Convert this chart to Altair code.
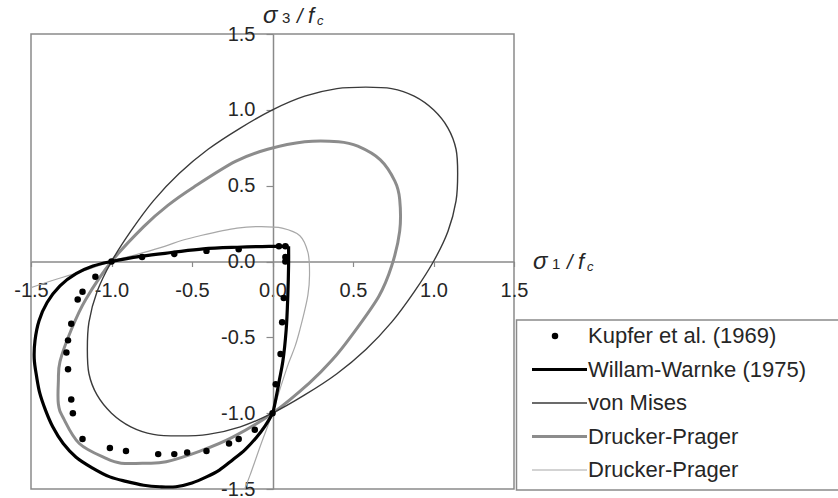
import altair as alt
import pandas as pd

# Biaxial failure envelopes of concrete, normalised principal stresses (σ1/fc, σ3/fc)

# Kupfer et al. (1969) test results
kupfer_s1 = [-1.00, -0.81, -0.61, -0.41, -0.21, 0.04, 0.08, 0.08, 0.08, 0.07, 0.06, 0.05, 0.02,
             0.00, -0.11, -0.21, -0.27, -0.41, -0.53, -0.61, -0.71, -0.91, -1.01, -1.18,
             -1.24, -1.25, -1.27, -1.28, -1.27, -1.25, -1.21, -1.18, -1.10]
kupfer_s3 = [0.00, 0.03, 0.05, 0.07, 0.08, 0.10, 0.10, 0.03, 0.00, -0.24, -0.40, -0.61, -0.81,
             -1.00, -1.11, -1.17, -1.20, -1.25, -1.26, -1.27, -1.27, -1.25, -1.23, -1.17,
             -1.00, -0.91, -0.71, -0.60, -0.52, -0.41, -0.25, -0.20, -0.10]

# Willam-Warnke (1975): tension corner, top edge, compression arc, right edge
ww_s1 = [0.10, -0.02, -0.22, -0.43, -0.62, -0.81,
         -1.00, -1.115, -1.22, -1.32, -1.40, -1.45, -1.475, -1.48, -1.465, -1.445, -1.41,
         -1.365, -1.30, -1.22, -1.12, -1.01, -0.91, -0.80, -0.70, -0.60, -0.50, -0.41,
         -0.33, -0.25, -0.17, -0.10, -0.05,
         0.00, 0.02, 0.043, 0.064, 0.085, 0.095, 0.10, 0.10]
ww_s3 = [0.10, 0.10, 0.094, 0.083, 0.06, 0.035,
         0.00, -0.03, -0.08, -0.16, -0.27, -0.39, -0.52, -0.64, -0.76, -0.87, -0.98,
         -1.09, -1.20, -1.29, -1.36, -1.42, -1.45, -1.475, -1.485, -1.485, -1.46, -1.42,
         -1.375, -1.31, -1.24, -1.16, -1.09,
         -1.00, -0.91, -0.78, -0.66, -0.45, -0.23, -0.02, 0.10]

# von Mises
vm_s1 = [1.00, 0.88, 0.74, 0.58, 0.40, 0.20, 0.00, -0.20, -0.40, -0.58, -0.74, -0.88,
         -1.00, -1.09, -1.14, -1.15, -1.14, -1.09, -1.00, -0.88, -0.74, -0.58, -0.40, -0.20,
         0.00, 0.20, 0.40, 0.58, 0.74, 0.88, 1.00, 1.09, 1.14, 1.15, 1.14, 1.09]
vm_s3 = [1.00, 1.09, 1.14, 1.15, 1.14, 1.09, 1.00, 0.88, 0.74, 0.58, 0.40, 0.20,
         0.00, -0.20, -0.40, -0.58, -0.74, -0.88, -1.00, -1.09, -1.14, -1.15, -1.14, -1.09,
         -1.00, -0.88, -0.74, -0.58, -0.40, -0.20, 0.00, 0.20, 0.40, 0.58, 0.74, 0.88]

# Drucker-Prager (closed envelope)
dpa_s1 = [-1.20, -1.30, -1.33, -1.33, -1.32, -1.25, -1.16, -1.00, -0.80, -0.65, -0.49, -0.23,
          -0.03, 0.20, 0.41, 0.53, 0.67, 0.76, 0.79, 0.79, 0.74, 0.66, 0.49, 0.37, 0.23,
          0.00, -0.25, -0.45, -0.66, -0.79, -0.94, -1.03]
dpa_s3 = [-1.20, -1.03, -0.94, -0.79, -0.66, -0.45, -0.25, 0.00, 0.23, 0.37, 0.49, 0.66,
          0.74, 0.79, 0.79, 0.76, 0.67, 0.53, 0.41, 0.20, -0.03, -0.23, -0.49, -0.65, -0.80,
          -1.00, -1.16, -1.25, -1.32, -1.33, -1.33, -1.30]

# Drucker-Prager (open envelope)
dpb_s1 = [-1.52, -1.41, -1.20, -1.00, -0.83, -0.67, -0.56, -0.45, -0.22, -0.09, 0.06, 0.17,
          0.22, 0.23, 0.22, 0.17, 0.14, 0.10, 0.05, 0.00, -0.07, -0.14, -0.18]
dpb_s3 = [-0.18, -0.14, -0.07, 0.00, 0.05, 0.10, 0.14, 0.17, 0.22, 0.23, 0.22, 0.17,
          0.06, -0.09, -0.22, -0.45, -0.56, -0.67, -0.83, -1.00, -1.20, -1.41, -1.52]

ticks = [-1.5, -1.0, -0.5, 0.0, 0.5, 1.0, 1.5]
legend_labels = ["Kupfer et al. (1969)", "Willam-Warnke (1975)", "von Mises",
                 "Drucker-Prager", "Drucker-Prager"]

# ---------------------------------------------------------------- styling
W, H = 483, 455
GREY = "#8a8a8a"
INK = "#262626"
FONT = "Liberation Sans"


def curve(s1, s3):
    return pd.DataFrame({"s1": s1, "s3": s3, "i": list(range(len(s1)))})


label_expr = "(datum.value < 0 ? '-' : '') + format(abs(datum.value), '.1f')"
common_axis = dict(values=ticks, title=None, grid=False, labelExpr=label_expr,
                   domainColor=GREY, domainWidth=1.5, tickColor=GREY, tickWidth=1.2,
                   labelFontSize=20, labelFont=FONT, labelColor=INK,
                   labelFlush=False, labelOverlap=False, labelBound=False)

X = alt.X("s1:Q", scale=alt.Scale(domain=[-1.5, 1.5], nice=False, zero=False),
          axis=alt.Axis(orient="bottom", offset=-H / 2, tickSize=5, labelPadding=14,
                        **common_axis))
Y = alt.Y("s3:Q", scale=alt.Scale(domain=[-1.5, 1.5], nice=False, zero=False),
          axis=alt.Axis(orient="left", offset=-(273 - 31), tickSize=7, labelPadding=11,
                        **common_axis))


def line_layer(df, color, width, interp):
    return alt.Chart(df).mark_line(color=color, strokeWidth=width, interpolate=interp,
                                   clip=True).encode(x=X, y=Y, order="i:Q")


styles = [
    dict(color="#a8a8a8", width=1.2),   # Drucker-Prager, open
    dict(color="#8c8c8c", width=3.0),   # Drucker-Prager, closed
    dict(color="#3a3a3a", width=1.4),   # von Mises
    dict(color="#000000", width=3.2),   # Willam-Warnke
]

layers = [
    line_layer(curve(dpb_s1, dpb_s3), styles[0]["color"], styles[0]["width"], "catmull-rom"),
    line_layer(curve(dpa_s1, dpa_s3), styles[1]["color"], styles[1]["width"], "cardinal-closed"),
    line_layer(curve(vm_s1, vm_s3), styles[2]["color"], styles[2]["width"], "cardinal-closed"),
    line_layer(curve(ww_s1, ww_s3), styles[3]["color"], styles[3]["width"], "catmull-rom"),
    alt.Chart(curve(kupfer_s1, kupfer_s3)).mark_circle(color="black", size=42, opacity=1)
    .encode(x=X, y=Y),
]

one = pd.DataFrame({"k": [0]})


# axis titles  σ3 / fc  and  σ1 / fc
def title_parts(x0, base, sub):
    parts = [("σ", 0, 0, 24, "italic"), (sub, 19, 0, 15, "normal"),
             ("/", 34, 0, 20, "italic"), ("f", 45, 0, 22, "italic"),
             ("c", 54, 2, 13, "italic")]
    out = []
    for txt, dx, dy, fs, st in parts:
        out.append(alt.Chart(one).mark_text(align="left", baseline="alphabetic", font=FONT,
                                            fontSize=fs, fontStyle=st, color=INK)
                   .encode(x=alt.value(x0 + dx), y=alt.value(base + dy), text=alt.value(txt)))
    return out


layers += title_parts(232, -11, "3")
layers += title_parts(502, 235, "1")

# legend box
layers.append(alt.Chart(one).mark_rect(filled=False, stroke=GREY, strokeWidth=1.5)
              .encode(x=alt.value(485.5), x2=alt.value(830), y=alt.value(286), y2=alt.value(456)))

row0, step = 302, 33.5
legend_styles = [None, styles[3], styles[2], styles[1], styles[0]]
for k, (lab, st) in enumerate(zip(legend_labels, legend_styles)):
    yy = row0 + k * step
    if st is None:
        layers.append(alt.Chart(one).mark_circle(color="black", size=42, opacity=1)
                      .encode(x=alt.value(524), y=alt.value(yy)))
    else:
        layers.append(alt.Chart(one).mark_rule(color=st["color"], strokeWidth=st["width"])
                      .encode(x=alt.value(501), x2=alt.value(556), y=alt.value(yy)))
    layers.append(alt.Chart(one).mark_text(align="left", baseline="middle", font=FONT,
                                           fontSize=22, color=INK)
                  .encode(x=alt.value(557), y=alt.value(yy), text=alt.value(lab)))

chart = alt.layer(*layers).properties(
    width=W, height=H,
    autosize=alt.AutoSizeParams(type="none"),
    padding={"left": 31, "top": 34, "right": 324, "bottom": 9},
    background="white",
).configure_view(stroke=GREY, strokeWidth=1.5)

chart.save("out.html", embed_options={"renderer": "svg", "actions": False})
